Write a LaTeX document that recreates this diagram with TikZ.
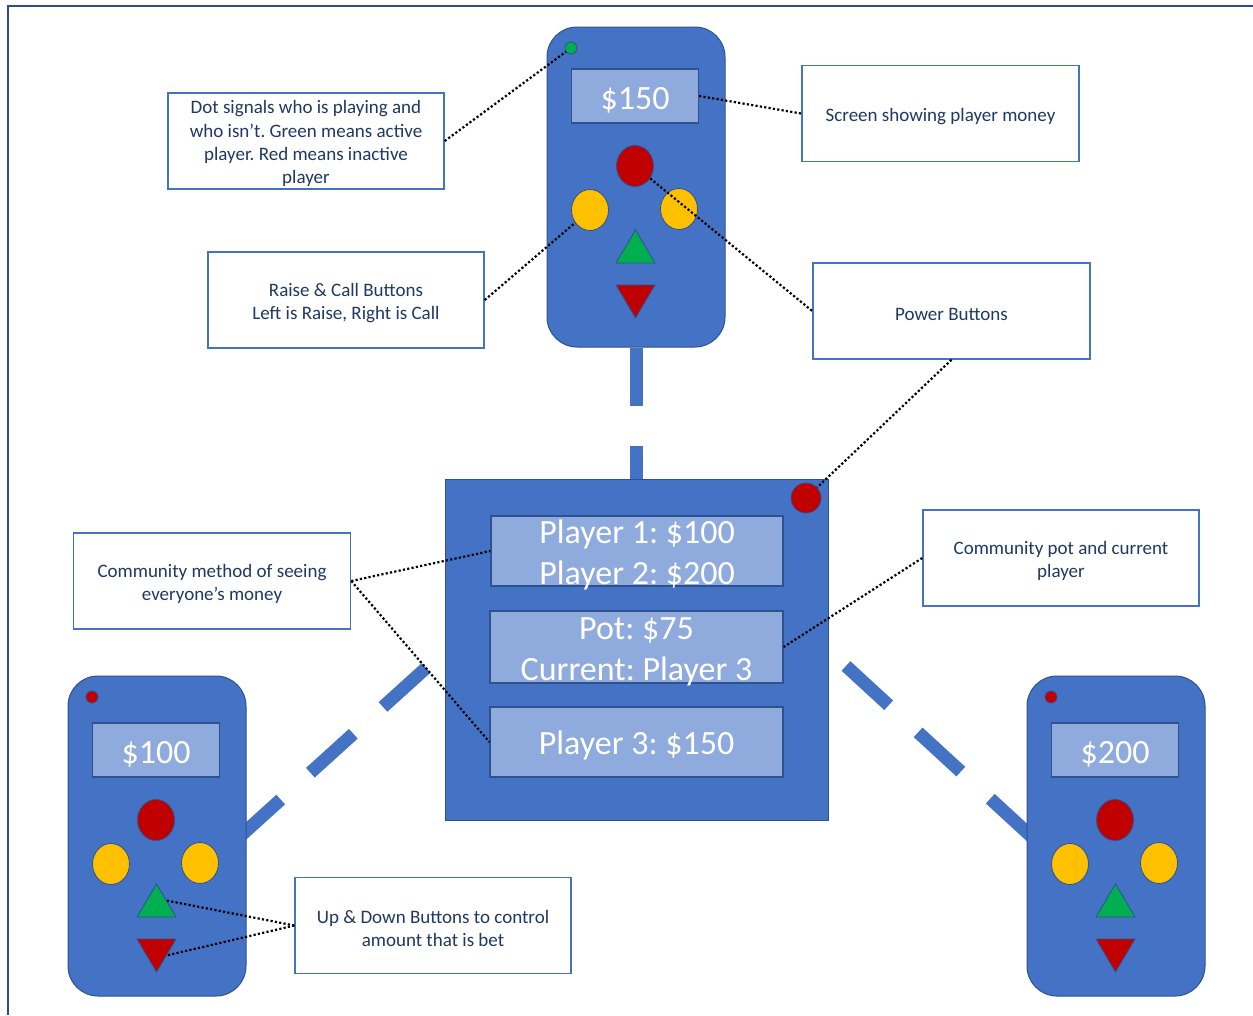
\documentclass[tikz,border=0pt]{standalone}
\usepackage{fontspec}
\setmainfont{Carlito}
\frenchspacing
\usetikzlibrary{shapes.geometric,backgrounds}
\definecolor{rblue}{HTML}{4472C4}
\definecolor{rbord}{HTML}{2F528F}
\definecolor{rscreen}{HTML}{8FAADC}
\definecolor{cred}{HTML}{C00000}
\definecolor{cyel}{HTML}{FFC000}
\definecolor{cgreen}{HTML}{00B050}
\definecolor{ctext}{HTML}{1F3864}
\definecolor{cframe}{HTML}{2F4B8A}
\newcommand{\smallstrut}{\rule{0pt}{18.5pt}}
\newcommand{\bigstrut}{\rule{0pt}{31pt}}
\tikzset{
 remotebody/.style={draw=rbord, line width=1pt, fill=rblue, rounded corners=30pt, minimum width=178pt, minimum height=320pt, inner sep=0pt},
 led/.style={circle, draw=rbord, line width=0.8pt, minimum size=12pt, inner sep=0pt},
 screenbox/.style={draw=rbord, line width=1.2pt, fill=rscreen, minimum width=127pt, minimum height=54pt, inner sep=0pt, text=white, font=\fontsize{34}{41}\selectfont},
 btn/.style={ellipse, draw=rbord, line width=0.8pt, minimum width=37pt, minimum height=41pt, inner sep=0pt},
 tribtn/.style={draw=rbord, line width=0.8pt},
 callout/.style={draw=rblue, line width=1.5pt, fill=white, align=center, text=ctext, font=\fontsize{19}{23.2}\selectfont, inner sep=0pt, minimum width=276pt, minimum height=96pt},
 panel/.style={draw=rbord, line width=1.2pt, fill=rscreen, inner sep=0pt},
 bigtext/.style={text=white, align=center, font=\fontsize{34}{41}\selectfont, inner sep=0pt},
 link/.style={draw=rblue, line width=13pt, dash pattern=on 58pt off 40pt},
 leader/.style={draw=black, line width=2.2pt, dash pattern=on 2.2pt off 2.2pt},
 frameline/.style={draw=cframe, line width=2pt},
}
% #1 name, #2 x, #3 y (top-left), #4 inner y offset, #5 amount, #6 led colour
\newcommand{\remotedev}[6]{%
 \begin{scope}[shift={(#2,#3)}]
  \node[remotebody] (#1) at (89,160) {};
  \node[led, fill=#6] (#1dot) at (24,21) {};
  \node[screenbox] (#1scr) at (88,{74+(#4)}) {\bigstrut#5};
  \node[btn, fill=cred] (#1red) at (88,{144+(#4)}) {};
  \node[btn, fill=cyel] (#1yl) at (43,{188+(#4)}) {};
  \node[btn, fill=cyel] (#1yr) at (132,{187+(#4)}) {};
  \draw[tribtn, fill=cgreen] (88.5,{208+(#4)}) -- (108,{241+(#4)}) -- (69,{241+(#4)}) -- cycle;
  \draw[tribtn, fill=cred] (69,{263+(#4)}) -- (108,{263+(#4)}) -- (88.5,{296+(#4)}) -- cycle;
  \coordinate (#1up) at (98.5,{224.5+(#4)});
  \coordinate (#1dn) at (98.5,{279.5+(#4)});
 \end{scope}}
\begin{document}
\begin{tikzpicture}[x=1pt,y=-1pt]
\useasboundingbox (0,0) rectangle (1253,1015);
\draw[frameline] (8,1015) -- (8,6) -- (1253,6);

% remotes
\remotedev{topR}{547}{27}{-5}{\$150}{cgreen}
\remotedev{leftR}{68}{676}{0}{\$100}{cred}
\remotedev{rightR}{1027}{676}{0}{\$200}{cred}

% central unit
\node[draw=rbord, line width=1pt, fill=rblue, minimum width=383pt, minimum height=341pt, inner sep=0pt] (cbox) at (636.5,649.5) {};
\node[led, fill=cred, minimum size=30pt] (cdot) at (806,498) {};
\node[panel, minimum width=292pt, minimum height=70pt] (p1) at (637,551) {};
\node[bigtext] (p1t) at (p1) {\bigstrut Player 1: \$100\\Player 2: \$200};
\node[panel, minimum width=293pt, minimum height=72pt] (p2) at (636.5,647) {};
\node[bigtext] (p2t) at (p2) {\bigstrut Pot: \$75\\Current: Player 3};
\node[panel, minimum width=293pt, minimum height=70pt] (p3) at (636.5,742) {};
\node[bigtext] (p3t) at (p3) {\bigstrut Player 3: \$150};

% dashed links (behind)
\coordinate (lA) at (426,668);
\coordinate (lB) at (237.7,838.5);
\coordinate (rA) at (846,666);
\coordinate (rB) at (1033,838);
\begin{scope}[on background layer]
 \draw[link] (topR.south) -- (topR.south |- cbox.north);
 \draw[link] (lA) -- (lB);
 \draw[link] (rA) -- (rB);
\end{scope}

% callouts
\node[callout] (dotbox) at (306,141) {\smallstrut Dot signals who is playing and\\who isn’t. Green means active\\player. Red means inactive\\player};
\node[callout] (raisebox) at (346,300) {\smallstrut Raise \& Call Buttons\\Left is Raise, Right is Call};
\node[callout, minimum width=277pt] (scrbox) at (940.5,113.5) {\smallstrut Screen showing player money};
\node[callout, minimum width=277pt] (powbox) at (951.5,311) {\smallstrut Power Buttons};
\node[callout, minimum width=277pt] (cmbox) at (212,581) {\smallstrut Community method of seeing\\everyone’s money};
\node[callout] (cpbox) at (1061,558) {\smallstrut Community pot and current\\player};
\node[callout] (udbox) at (433,925.5) {\smallstrut Up \& Down Buttons to control\\amount that is bet};

% dotted leaders
\draw[leader] (dotbox.east) -- (topRdot);
\draw[leader] (raisebox.east) -- (topRyl);
\draw[leader] (topRscr.east) -- (scrbox.west);
\draw[leader] (topRred) -- (powbox.west);
\draw[leader] (powbox.south) -- (cdot);
\draw[leader] (cmbox.east) -- (p1.west);
\draw[leader] (cmbox.east) -- (p3.west);
\draw[leader] (cpbox.west) -- (p2.east);
\draw[leader] (udbox.west) -- (leftRup);
\draw[leader] (udbox.west) -- (leftRdn);
\end{tikzpicture}
\end{document}
